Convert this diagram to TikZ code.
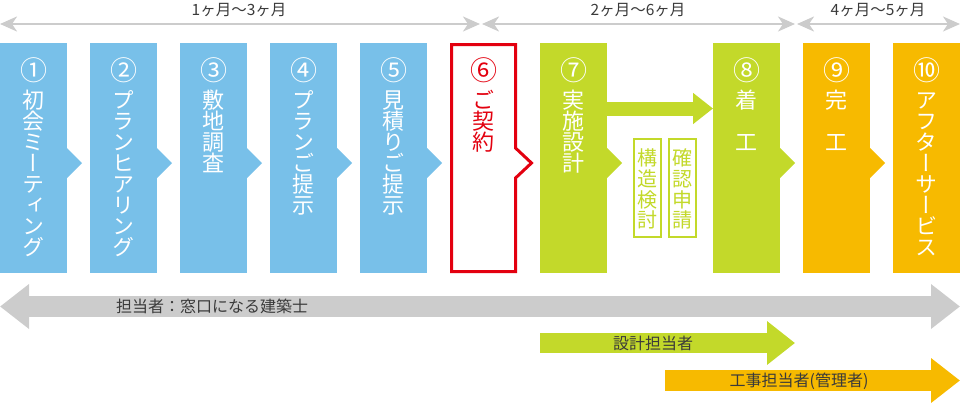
\documentclass[tikz,border=0pt]{standalone}
\usepackage{fontspec}
\setmainfont{Noto Sans CJK JP}
\newfontfamily\vjp{Noto Sans CJK JP}[RawFeature=+vert]
\usetikzlibrary{arrows.meta,calc}
\definecolor{cblue}{HTML}{78C0E9}
\definecolor{cgreen}{HTML}{C3D92A}
\definecolor{corange}{HTML}{F7BA00}
\definecolor{cred}{HTML}{E3000F}
\definecolor{cgrey}{HTML}{CCCCCC}
\definecolor{ctext}{HTML}{3A3A3A}
\newcommand\vtxt[4]{\foreach \c [count=\i from 0] in {#3} {\node[#4,text=#2] (#1t\i) at ($(#1.north)+(0,57+21*\i)$) {\c};}}
\newcommand\chev[2]{\fill[#2] ($(#1.east)+(0,-10)$) -- ++(15,15) -- ++(-15,15) -- cycle;}
\tikzset{bigtip/.tip={Triangle[length=29pt,width=43pt]}}
\begin{document}
\begin{tikzpicture}[x=1pt,y=-1pt,
  stepbox/.style={rectangle,inner sep=0pt,outer sep=0pt,minimum width=67pt,minimum height=230pt,anchor=north west},
  vch/.style={font=\vjp\fontsize{22}{22}\selectfont,inner sep=0pt,text height=19.36pt,text depth=2.64pt},
  numc/.style={font=\fontsize{27}{27}\selectfont,inner sep=0pt,text height=23.76pt,text depth=3.24pt},
  sch/.style={font=\vjp\fontsize{20}{20}\selectfont,inner sep=0pt,text height=17.6pt,text depth=2.4pt,text=cgreen},
  subbox/.style={rectangle,draw=cgreen,line width=2pt,fill=white,inner sep=0pt,minimum width=27pt,minimum height=98pt},
  toplbl/.style={font=\fontsize{15.5}{15.5}\selectfont,inner sep=0pt,text height=13.64pt,text depth=1.86pt,text=ctext},
  arrlbl/.style={font=\fontsize{16}{16}\selectfont,inner sep=0pt,text height=14.08pt,text depth=1.92pt,text=ctext},
  span/.style={line width=2.5pt,cgrey,{Stealth[length=17pt,width=15pt,inset=5pt]}-{Stealth[length=17pt,width=15pt,inset=5pt]}}
]
\useasboundingbox (0,0) rectangle (960,402);

% top spans
\coordinate (s0) at (0,24);
\coordinate (s1) at (480,24);
\coordinate (s2) at (482,24);
\coordinate (s3) at (795,24);
\coordinate (s4) at (797,24);
\coordinate (s5) at (960,24);
\draw[span] (s0) -- (s1);
\draw[span] (s2) -- (s3);
\draw[span] (s4) -- (s5);
\node[toplbl] (l1) at (239,10) {1ヶ月～3ヶ月};
\node[toplbl] (l2) at (638,10) {2ヶ月～6ヶ月};
\node[toplbl] (l3) at (878,10) {4ヶ月～5ヶ月};

% step boxes
\node[stepbox,fill=cblue] (b1) at (0,43) {};
\node[stepbox,fill=cblue] (b2) at (90,43) {};
\node[stepbox,fill=cblue] (b3) at (180,43) {};
\node[stepbox,fill=cblue] (b4) at (270,43) {};
\node[stepbox,fill=cblue] (b5) at (360,43) {};
\node[stepbox] (b6) at (450,43) {};
\node[stepbox,fill=cgreen] (b7) at (540,43) {};
\node[stepbox,fill=cgreen] (b8) at (713,43) {};
\node[stepbox,fill=corange] (b9) at (803,43) {};
\node[stepbox,fill=corange] (b10) at (893,43) {};

\chev{b1}{cblue}
\chev{b2}{cblue}
\chev{b3}{cblue}
\chev{b4}{cblue}
\chev{b5}{cblue}
\chev{b7}{cgreen}
\chev{b8}{cgreen}
\chev{b9}{corange}

\draw[cred,line width=3pt,fill=white] ($(b6.north west)+(1.5,1.5)$) -- ($(b6.north east)+(-1.5,1.5)$)
  -- ($(b6.east)+(-1.5,-10)$) -- ++(16,15) -- ++(-16,15)
  -- ($(b6.south east)+(-1.5,-1.5)$) -- ($(b6.south west)+(1.5,-1.5)$) -- cycle;

% numbers
\node[numc,text=white] (b1n) at ($(b1.north)+(0,27)$) {①};
\node[numc,text=white] (b2n) at ($(b2.north)+(0,27)$) {②};
\node[numc,text=white] (b3n) at ($(b3.north)+(0,27)$) {③};
\node[numc,text=white] (b4n) at ($(b4.north)+(0,27)$) {④};
\node[numc,text=white] (b5n) at ($(b5.north)+(0,27)$) {⑤};
\node[numc,text=cred] (b6n) at ($(b6.north)+(0,27)$) {⑥};
\node[numc,text=white] (b7n) at ($(b7.north)+(0,27)$) {⑦};
\node[numc,text=white] (b8n) at ($(b8.north)+(0,27)$) {⑧};
\node[numc,text=white] (b9n) at ($(b9.north)+(0,27)$) {⑨};
\node[numc,text=white] (b10n) at ($(b10.north)+(0,27)$) {⑩};

% vertical texts
\vtxt{b1}{white}{初,会,ミ,ー,テ,ィ,ン,グ}{vch}
\vtxt{b2}{white}{プ,ラ,ン,ヒ,ア,リ,ン,グ}{vch}
\vtxt{b3}{white}{敷,地,調,査}{vch}
\vtxt{b4}{white}{プ,ラ,ン,ご,提,示}{vch}
\vtxt{b5}{white}{見,積,り,ご,提,示}{vch}
\vtxt{b6}{cred}{ご,契,約}{vch}
\vtxt{b7}{white}{実,施,設,計}{vch}
\node[vch,text=white] (b8t0) at ($(b8.north)+(0,57)$) {着};
\node[vch,text=white] (b8t2) at ($(b8.north)+(0,99)$) {工};
\node[vch,text=white] (b9t0) at ($(b9.north)+(0,57)$) {完};
\node[vch,text=white] (b9t2) at ($(b9.north)+(0,99)$) {工};
\vtxt{b10}{white}{ア,フ,タ,ー,サ,ー,ビ,ス}{vch}

% sub boxes
\node[subbox] (sa) at (647.5,188) {};
\node[subbox] (sb) at (682.5,188) {};
\foreach \c [count=\i from 0] in {構,造,検,討} {\node[sch] (sat\i) at ($(sa.north)+(0,20+20.7*\i)$) {\c};}
\foreach \c [count=\i from 0] in {確,認,申,請} {\node[sch] (sbt\i) at ($(sb.north)+(0,20+20.7*\i)$) {\c};}

% arrow 7 -> 8
\coordinate (ay) at (0,108.5);
\draw[cgreen,line width=14pt,-{Triangle[length=20pt,width=30pt]}] (b7.east |- ay) -- (b8.west |- ay);

% responsibility arrows
\coordinate (g0) at (0,306.5);
\coordinate (g1) at (960,306.5);
\draw[cgrey,line width=21pt,bigtip-bigtip] (g0) -- (g1);
\node[arrlbl] (gl) at (212,306.5) {担当者：窓口になる建築士};

\coordinate (d0) at (540,343);
\coordinate (d1) at (795,343);
\draw[cgreen,line width=20pt,-{Triangle[length=28pt,width=42pt]}] (d0) -- (d1);
\node[arrlbl] (dl) at (653,343) {設計担当者};

\coordinate (k0) at (665,380.5);
\coordinate (k1) at (960,380.5);
\draw[corange,line width=21pt,-bigtip] (k0) -- (k1);
\node[arrlbl] (kl) at (799,380.5) {工事担当者(管理者)};
\end{tikzpicture}
\end{document}
